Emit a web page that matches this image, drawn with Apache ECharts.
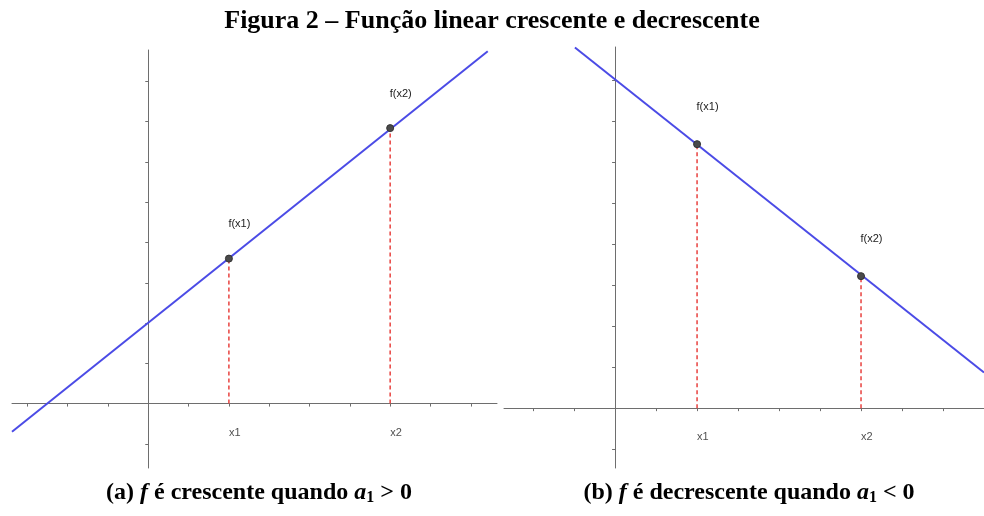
<!DOCTYPE html>
<html>
<head>
<meta charset="utf-8">
<script src="https://cdn.jsdelivr.net/npm/echarts@6/dist/echarts.min.js"></script>
<style>
html,body{margin:0;padding:0;background:#fff;}
#c{width:984px;height:516px;}
</style>
</head>
<body>
<div id="c"></div>
<script>
// ---- data ----
const titleText = 'Figura 2 – Função linear crescente e decrescente';
const xTicksA = [-3,-2,-1,0,1,2,3,4,5,6,7,8];
const yTicksA = [-1,0,1,2,3,4,5,6,7,8];
const xTicksB = [-2,-1,0,1,2,3,4,5,6,7,8];
const yTicksB = [-1,0,1,2,3,4,5,6,7,8];
const xLabelValues = [2,6];
const xLabelNames = ['x1','x2'];
const pointNames = ['f(x1)','f(x2)'];
// panel (a): increasing line
const lineA = [[-3.38,-0.70],[8.42,8.75]];
const pointsA = [[2,3.6],[6,6.84]];
// panel (b): decreasing line
const lineB = [[-0.98,8.80],[9.0,0.87]];
const pointsB = [[2,6.44],[6,3.22]];

// ---- styles ----
const AXIS_COLOR = '#6e6e6e';
const BLUE = '#4b4be6';
const RED = '#e8413e';
const PT = '#4a4a4a';
const SANS = '"Liberation Sans", Arial, sans-serif';
const SERIF = '"Liberation Serif", "Times New Roman", serif';

function xAxisCfg(gi, min, max, ticks) {
  return {
    type: 'value', gridIndex: gi, min: min, max: max,
    axisLine: { onZero: true, lineStyle: { color: AXIS_COLOR, width: 1 } },
    axisTick: { show: true, customValues: ticks, length: 3, lineStyle: { color: AXIS_COLOR } },
    axisLabel: { show: false },
    splitLine: { show: false }
  };
}
function yAxisCfg(gi, min, max, ticks) {
  return {
    type: 'value', gridIndex: gi, min: min, max: max,
    axisLine: { onZero: true, lineStyle: { color: AXIS_COLOR, width: 1 } },
    axisTick: { show: true, customValues: ticks, length: 3, lineStyle: { color: AXIS_COLOR } },
    axisLabel: { show: false },
    splitLine: { show: false }
  };
}

function panelSeries(gi, line, pts) {
  const s = [];
  pts.forEach((p) => {
    s.push({
      type: 'line', xAxisIndex: gi, yAxisIndex: gi,
      data: [[p[0], 0], [p[0], p[1]]],
      symbol: 'none', silent: true, z: 2,
      lineStyle: { color: RED, width: 1.5, type: [4, 3] }
    });
  });
  s.push({
    type: 'line', xAxisIndex: gi, yAxisIndex: gi, data: line,
    symbol: 'none', silent: true, z: 3,
    lineStyle: { color: BLUE, width: 2 }
  });
  s.push({
    type: 'scatter', xAxisIndex: gi, yAxisIndex: gi,
    data: pts.map((p, i) => ({ value: p, name: pointNames[i] })),
    symbol: 'circle', symbolSize: 7, z: 4,
    itemStyle: { color: PT, borderColor: '#333', borderWidth: 1, opacity: 1 },
    label: {
      show: true, position: [3.5, gi === 0 ? -30.5 : -33], align: 'left', verticalAlign: 'middle',
      formatter: p => p.name, color: '#222', fontSize: 11, fontFamily: SANS
    }
  });
  // x-axis text labels x1, x2
  s.push({
    type: 'scatter', xAxisIndex: gi, yAxisIndex: gi,
    data: xLabelValues.map((v, i) => ({ value: [v, 0], name: xLabelNames[i] })),
    symbolSize: 0, silent: true, z: 5,
    label: {
      show: true, position: [0, 29], align: 'left', verticalAlign: 'middle',
      formatter: p => p.name, color: '#222', fontSize: 11, fontFamily: SANS
    }
  });
  return s;
}

const CAP = 24;
const captionRich = {
  b: { fontFamily: SERIF, fontWeight: 'bold', fontSize: CAP, color: '#000' },
  i: { fontFamily: SERIF, fontStyle: 'italic', fontSize: CAP, color: '#000' },
  sub: { fontFamily: SERIF, fontSize: 16, color: '#000', verticalAlign: 'bottom', padding: [10, 0, 0, 0] },
  r: { fontFamily: SERIF, fontSize: CAP, color: '#000' }
};

const chart = echarts.init(document.getElementById('c'), null, { renderer: 'canvas' });
chart.setOption({
  animation: false,
  backgroundColor: '#fff',
  title: [
    { text: titleText, left: 'center', top: 3,
      textStyle: { fontFamily: SERIF, fontWeight: 'bold', fontSize: 26, color: '#000' } },
    { text: '{b|(a) }{i|f}{b| é crescente quando }{i|a}{sub|1}{r| > 0}', left: 254, top: 475,
      textAlign: 'center', textStyle: { rich: captionRich } },
    { text: '{b|(b) }{i|f}{b| é decrescente quando }{i|a}{sub|1}{r| < 0}', left: 744, top: 475,
      textAlign: 'center', textStyle: { rich: captionRich } }
  ],
  grid: [
    { left: 12, width: 485, top: 50, height: 418 },
    { left: 504, width: 480, top: 47, height: 421 }
  ],
  xAxis: [
    xAxisCfg(0, -3.38, 8.65, xTicksA),
    xAxisCfg(1, -2.71, 9.0, xTicksB)
  ],
  yAxis: [
    yAxisCfg(0, -1.6, 8.78, yTicksA),
    yAxisCfg(1, -1.46, 8.81, yTicksB)
  ],
  series: [].concat(panelSeries(0, lineA, pointsA), panelSeries(1, lineB, pointsB))
});
</script>
</body>
</html>
